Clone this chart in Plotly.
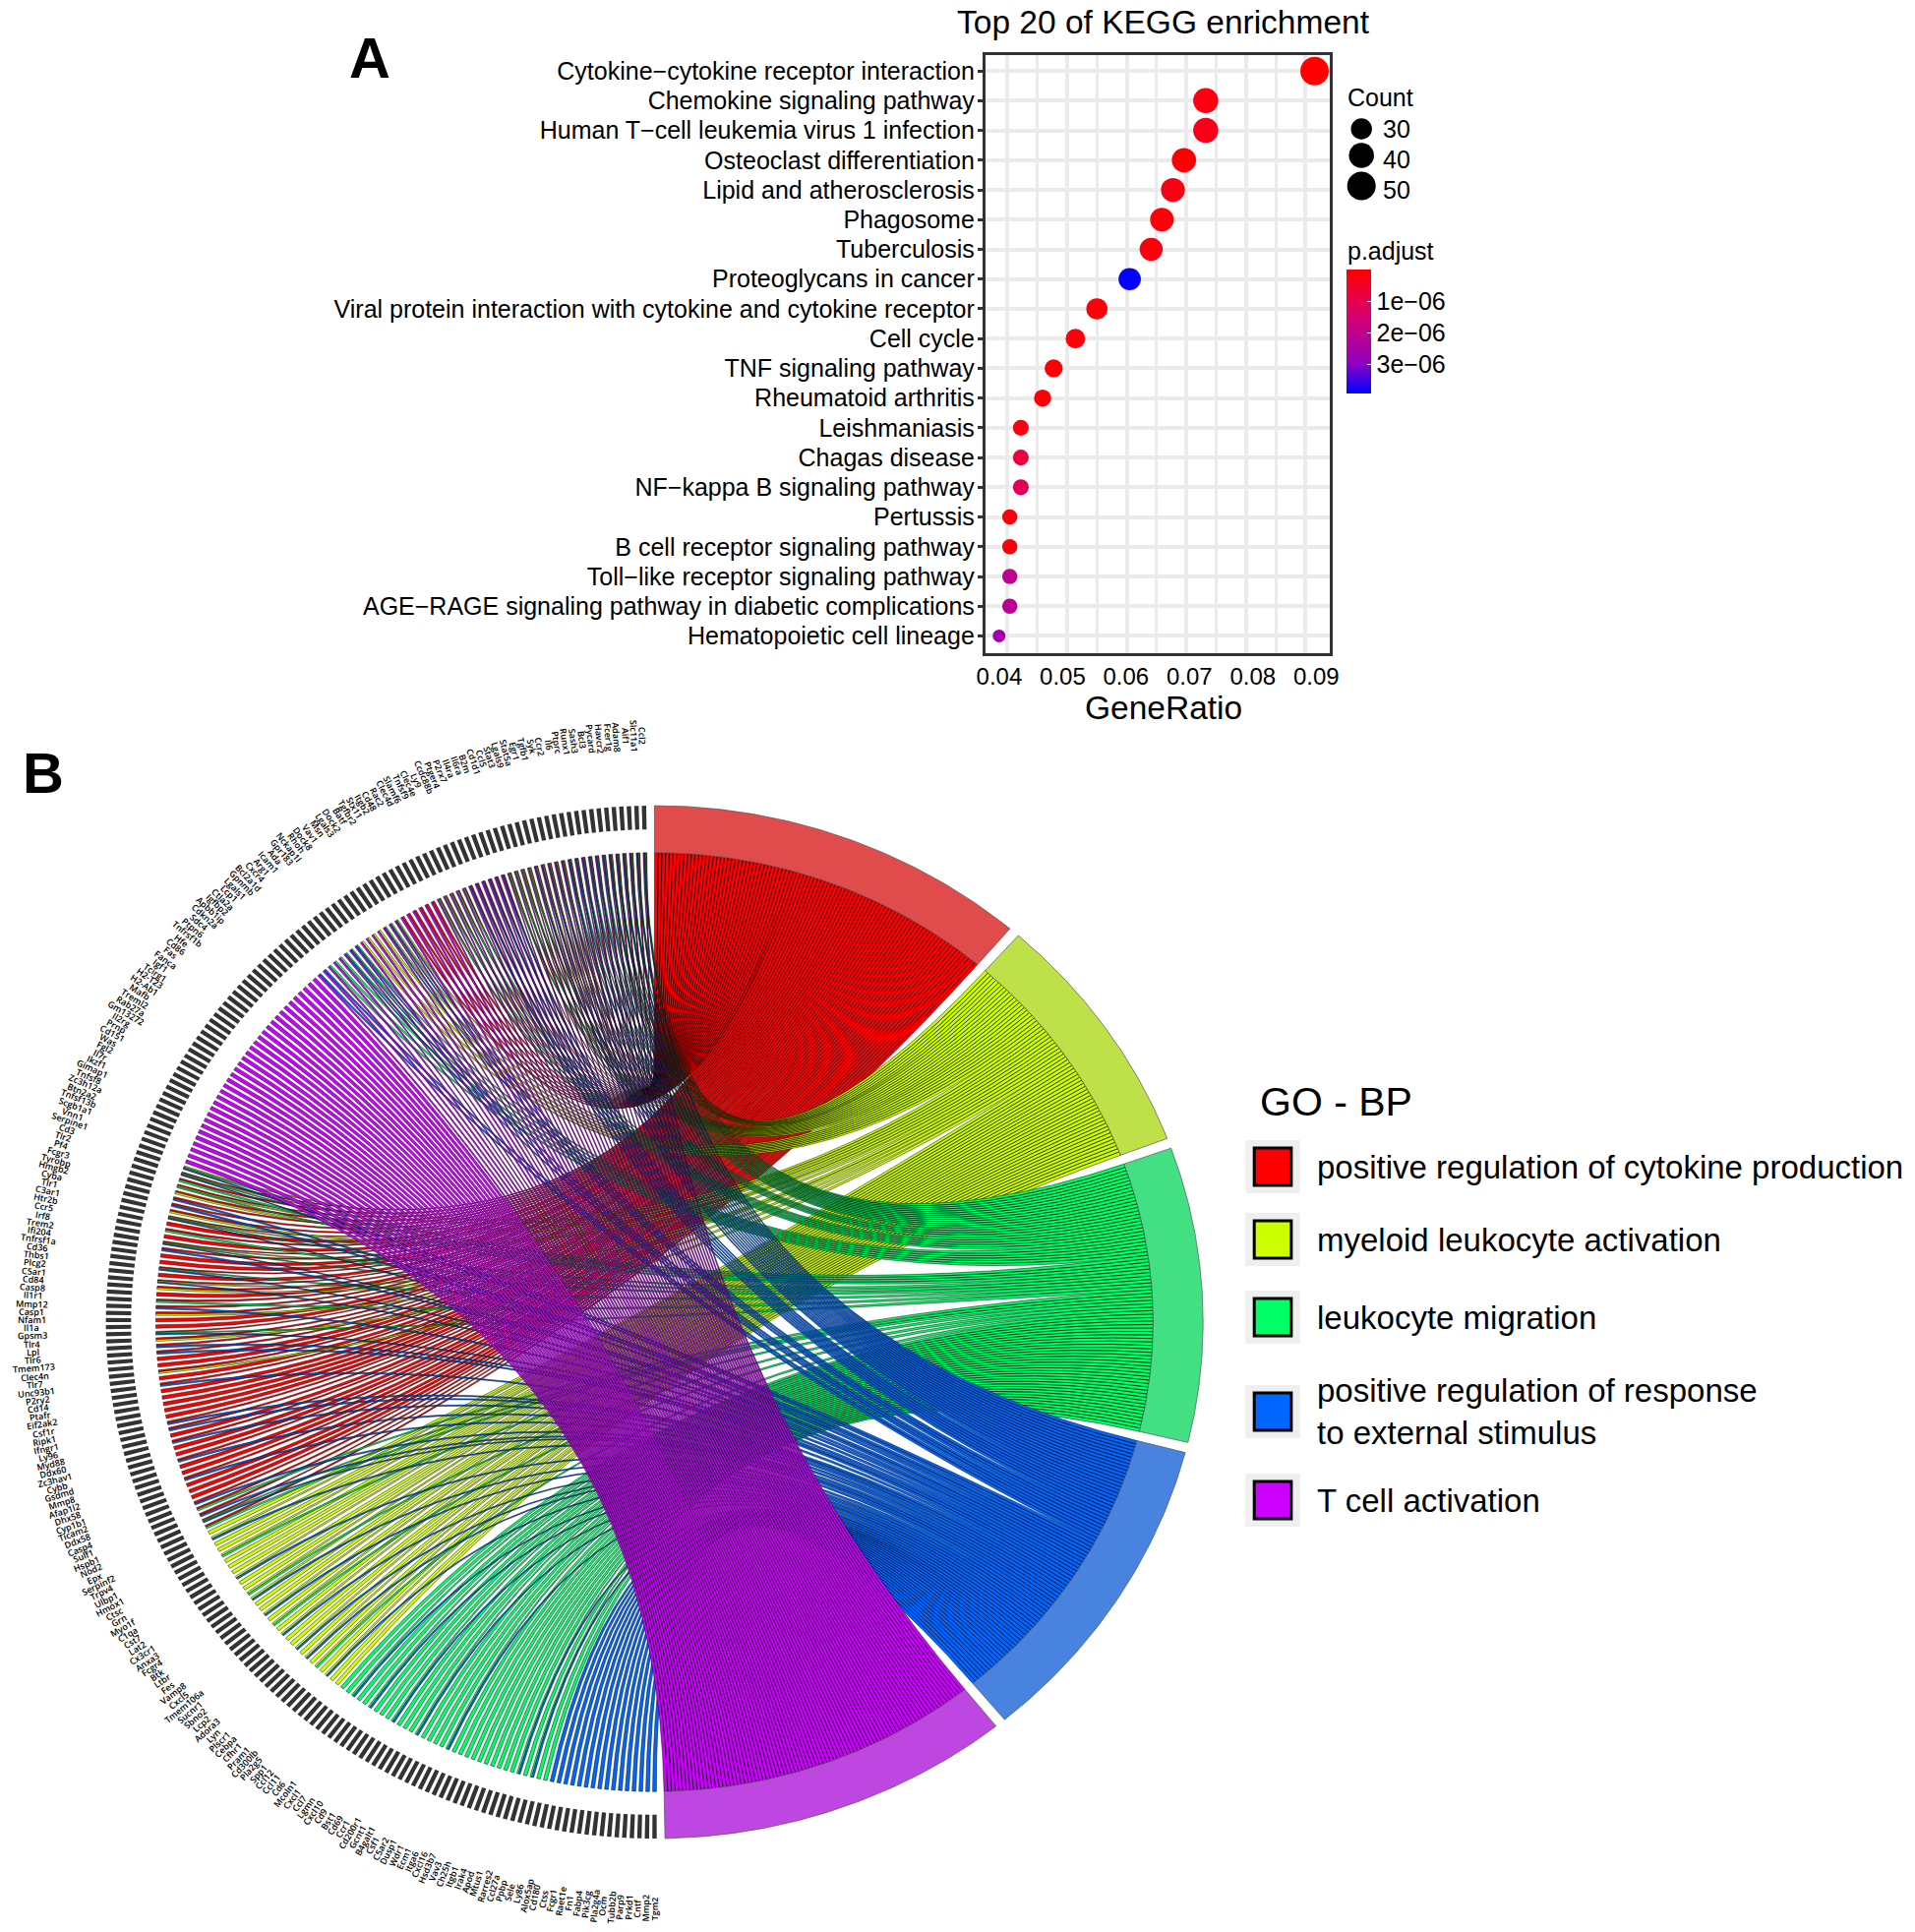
import numpy as np
import plotly.graph_objects as go

W, H = 1947, 1964
PAGE_MARGIN = 8
FIG_W, FIG_H = W - PAGE_MARGIN, H - PAGE_MARGIN
FONT = "Liberation Sans"

# ---------- Panel A data ----------
pathways = ["Cytokine−cytokine receptor interaction", "Chemokine signaling pathway",
            "Human T−cell leukemia virus 1 infection", "Osteoclast differentiation",
            "Lipid and atherosclerosis", "Phagosome", "Tuberculosis", "Proteoglycans in cancer",
            "Viral protein interaction with cytokine and cytokine receptor", "Cell cycle",
            "TNF signaling pathway", "Rheumatoid arthritis", "Leishmaniasis", "Chagas disease",
            "NF−kappa B signaling pathway", "Pertussis", "B cell receptor signaling pathway",
            "Toll−like receptor signaling pathway",
            "AGE−RAGE signaling pathway in diabetic complications", "Hematopoietic cell lineage"]
gene_ratio = [0.0915, 0.07325, 0.07325, 0.0696, 0.06775, 0.0659, 0.0641, 0.0605, 0.0550, 0.0514,
              0.04775, 0.0459, 0.04225, 0.04225, 0.04225, 0.0404, 0.0404, 0.0404, 0.0404, 0.0386]
counts = [50, 40, 40, 38, 37, 36, 35, 33, 30, 28, 26, 25, 23, 23, 23, 22, 22, 22, 22, 21]
p_adjust = [1e-10, 2e-7, 3e-7, 5e-8, 2.5e-7, 1e-7, 1.5e-7, 3.9e-6, 1e-7, 1e-7,
            1e-7, 5e-8, 2e-7, 8e-7, 1.1e-6, 1.5e-7, 1.5e-7, 2e-6, 2.1e-6, 2.6e-6]
ratio_ticks = [0.04, 0.05, 0.06, 0.07, 0.08, 0.09]
count_legend = [30, 40, 50]
padj_ticks = [1e-6, 2e-6, 3e-6]
padj_labels = ["1e−06", "2e−06", "3e−06"]

# ---------- Panel B data ----------
term_names = ["positive regulation of cytokine production", "myeloid leukocyte activation",
              "leukocyte migration", "positive regulation of response<br>to external stimulus",
              "T cell activation"]
term_codes = ["R", "Y", "G", "B", "P"]
genes = """Ccl2 Slc11a1 Aif1 Adam8 Fcer1g Havcr2 Pycard Bcl3 Sash3 Runx1
Ptprc Il6 Ccr2 Syk Tgfb1 Egr1 Stat5a Lgals9 Stat3 Ccl5
Cd1d1 B2m Il6ra Il4ra P2rx7 Ptger4 Ccdc88b Ly9 Clec4e Tnfsf9
Slamf6 Clec4d Rac2 Cd48 Itgb2 Stx11 Tgfbr2 Batf Dock2 Lgals3
Msn Vav1 Dock8 Rhoh Nckap1l Gpr183 Ada Icam1 Arg1 Cxcr4
Bcl2a1d Gpnmb Lgals1 Lcp1 Ctla2a Igfbp2 Apbb1ip Cdkn2a Sdc4 Ptpn6
Tnfrsf1b Hfe Cd86 Fas Fanca Igf1 Tcirg1 H2-T23 H2-Ab1 Mafb
Treml2 Rab27a Gm13272 Il2rg Prnp Cd151 Was Fgl2 Il7r Ikzf1
Gimap1 Tnfsf8 Zc3h12a Btn2a2 Tnfsf13b Scgb1a1 Vnn1 Serpine1 Cd3 Tlr2
Pf4 Fcgr3 Tyrobp Hmgb2 Cyba Tlr1 C3ar1 Htr2b Ccr5 Irf8
Trem2 Ifi204 Tnfrsf1a Cd36 Thbs1 Plcg2 C5ar1 Cd84 Casp8 Il1r1
Mmp12 Casp1 Nfam1 Il1a Gpsm3 Tlr4 Lpl Tlr6 Tmem173 Clec4n
Tlr7 Unc93b1 P2ry2 Cd14 Ptafr Eif2ak2 Csf1r Ripk1 Ifngr1 Ly96
Myd88 Ddx60 Zc3hav1 Cybb Gsdmd Mmp8 Afap1l2 Dhx58 Cyp1b1 Ticam2
Ddx58 Casp4 Sulf1 Hspb1 Nod2 Epx Serpinf2 Trpv4 Ulbp1 Hmox1
Ctsc Grn Myo1f C1qa Cst7 Lat2 Cx3cr1 Anxa3 Fcgr4 Btk
Ltbr Fes Vamp8 Cxcl5 Tmem106a Sucnr1 Sbno2 Lcp2 Adora3 Lyn
Plscr1 Cebpa Cfhr1 Pram1 Cd300lb Pla2g5 Spp1 Ccl12 Ccl11 Cd6
Mcoln1 Cxcl1 Ccl7 Lgmn Cxcl10 Cd9 Bst1 Cd69 Ccr1 Cd200r1
Gcnt1 B4galt1 Csf1 C5ar2 Dusp1 Wdr1 Ecm1 Itga6 Cxcl16 Hsd3b7
Vav3 Ch25h Itgb1 Irak4 Apod Mtus1 Rarres2 Ccl27a Ppbp Sele
Ly86 Alox5ap Cd180 Ctss Fcgr1 Raet1e Fn1 Fabp4 Pik3cg Pla2g4a
Ocm Tubb2b Parp9 Prkd1 Cntf Mmp2 Tgm2""".split()

member_shared = (["RYGBP"] * 6 + ["RGBP"] * 6 + ["RYBP"] * 5 + ["RYGP"] * 4 + ["RBP"] * 6 + ["RGP"] * 5
                 + ["RP"] * 6 + ["YBP"] * 3 + ["YP"] * 4 + ["GBP"] * 3 + ["GP"] * 3 + ["BP"] * 2)
member_tcell = ["P"] * 35
member_red = ["YGB", "RYGB", "RG", "RYG", "RY", "RB", "RB", "RY", "RYGB", "R", "RG", "R", "RYGB", "RB", "R",
              "R", "RGB", "R", "RYB", "RY", "R", "RG", "RB", "RY", "R", "R", "RGB", "RY", "RB", "RB",
              "R", "R", "RY", "R", "RB", "R", "R", "R", "R", "R", "RB", "RB", "R", "RB", "R",
              "R", "RB", "R", "R", "RB", "R", "R", "R", "RB", "RG", "RB", "RGB", "RG"]
member_yellow = ["Y", "YB", "Y", "Y", "YG", "Y", "Y", "Y", "YB", "Y", "Y", "YG", "YB", "Y", "Y", "YB",
                 "Y", "YG", "Y", "YB", "Y", "Y", "YB", "Y", "YB", "Y", "YG", "Y", "YB", "Y", "Y"]
member_green = ["G", "G", "GB", "G", "G", "GB", "G", "G", "G", "GB", "G", "G", "G", "GB", "G", "G", "G",
                "G", "GB", "G", "G", "G", "G", "G", "G", "G", "G", "G", "G", "GB", "G", "GB", "G", "G"]
member_blue = ["B"] * 16
membership = member_shared + member_tcell + member_red + member_yellow + member_green + member_blue

# ---------- styles ----------
ribbon_colors = {"R": "#FF0000", "Y": "#CCFF00", "G": "#00FF66", "B": "#0066FF", "P": "#CC00FF"}
block_colors = {"R": "#E04B4B", "Y": "#BEE048", "G": "#43E083", "B": "#4883DF", "P": "#BD47E0"}
# colour bar runs red (top) to blue (bottom), so the scale is drawn on the negated value
padj_scale = [[0, "#0000FF"], [0.25, "#9100BF"], [0.5, "#C2008A"], [0.75, "#E7004F"], [1, "#FF0000"]]

# pixel helpers: page position -> paper fractions (page has a body margin)
def px(x):
    return (x - PAGE_MARGIN) / FIG_W
def py(y):
    return 1 - (y - PAGE_MARGIN) / FIG_H

# circle geometry on the page
CX, CY, RX, RY = 662.5, 1344.0, 563.0, 525.0
R_IN, R_BAR, R_LAB = 0.909, 0.954, 1.135
GENE_START, GENE_SPAN = 0.7, 179.7
TERM_GAP, TERM_TOTAL = 1.15, 174.3

fig = go.Figure()

def marker_px(c):
    return np.interp(c, [21, 22, 25, 30, 40, 50], [13, 15.5, 17.5, 21.5, 25.5, 29])

# Panel A points (main axes carry grid)
fig.add_trace(go.Scatter(
    x=gene_ratio, y=pathways, mode="markers", xaxis="x", yaxis="y", showlegend=False,
    marker=dict(size=marker_px(np.array(counts)), sizemode="diameter", opacity=1, color=-np.array(p_adjust),
                cmin=-3.92e-6, cmax=0, colorscale=padj_scale, line=dict(width=0),
                colorbar=dict(x=px(1373), xanchor="left", xpad=0, y=py(274), yanchor="top", ypad=0,
                              lenmode="pixels", len=126, thicknessmode="pixels", thickness=25,
                              tickvals=[-v for v in padj_ticks], ticktext=padj_labels, ticks="inside", ticklen=4,
                              tickcolor="white", tickwidth=1, outlinewidth=0,
                              tickfont=dict(family=FONT, size=25, color="black")))))
# overlay axis carrying the printed tick labels
fig.add_trace(go.Scatter(x=ratio_ticks, y=[pathways[0]] * len(ratio_ticks), mode="markers", xaxis="x3", yaxis="y",
                         showlegend=False, marker=dict(size=1, opacity=0), hoverinfo="skip"))

# Panel B geometry -----------------------------------------------------
N = len(genes)
gene_step = GENE_SPAN / N
sizes = {c: sum(c in m for m in membership) for c in term_codes}
total = sum(sizes.values())
term_start, term_span = {}, {}
cursor = 0.0
for c in term_codes:
    term_start[c] = cursor
    term_span[c] = TERM_TOTAL * sizes[c] / total
    cursor += term_span[c] + TERM_GAP

def gene_xy(phi, r):
    a = np.radians(phi)
    return -r * np.sin(a), r * np.cos(a)

def term_xy(th, r):
    a = np.radians(th)
    return r * np.sin(a), r * np.cos(a)

T = np.linspace(0, 1, 26)

def ribbon(phi1, phi2, th1, th2):
    xs, ys = [], []
    ax1, ay1 = gene_xy(phi1, R_IN)
    bx1, by1 = term_xy(th1, R_IN)
    xs += list((1 - T) ** 2 * ax1 + T ** 2 * bx1)
    ys += list((1 - T) ** 2 * ay1 + T ** 2 * by1)
    bx2, by2 = term_xy(th2, R_IN)
    ax2, ay2 = gene_xy(phi2, R_IN)
    xs += list((1 - T) ** 2 * bx2 + T ** 2 * ax2)
    ys += list((1 - T) ** 2 * by2 + T ** 2 * ay2)
    xs += [ax1, None]
    ys += [ay1, None]
    return xs, ys

slot = {c: 0 for c in term_codes}
paths = {c: ([], []) for c in term_codes}
for i, m in enumerate(membership):
    c0 = GENE_START + (i + 0.5) * gene_step
    half = 0.27 * gene_step
    parts = [c for c in term_codes if c in m]
    w = 2 * half / len(parts)
    for k, c in enumerate(parts):
        phi1 = c0 - half + k * w
        phi2 = phi1 + w
        d = term_span[c] / sizes[c]
        th1 = term_start[c] + slot[c] * d
        th2 = th1 + d
        slot[c] += 1
        xs, ys = ribbon(phi1, phi2, th1, th2)
        paths[c][0].extend(xs)
        paths[c][1].extend(ys)

for c in term_codes:
    fig.add_trace(go.Scatter(x=paths[c][0], y=paths[c][1], mode="lines", fill="toself",
                             fillcolor=ribbon_colors[c], line=dict(color="black", width=0.48, simplify=False),
                             xaxis="x2", yaxis="y2", showlegend=False, hoverinfo="skip"))

# term blocks
for c in term_codes:
    th = np.linspace(term_start[c], term_start[c] + term_span[c], 80)
    xo, yo = term_xy(th, 1.0)
    xi, yi = term_xy(th[::-1], R_IN)
    fig.add_trace(go.Scatter(x=list(xo) + list(xi) + [xo[0]], y=list(yo) + list(yi) + [yo[0]], mode="lines",
                             fill="toself", fillcolor=block_colors[c], line=dict(color="#555555", width=0.7),
                             xaxis="x2", yaxis="y2", showlegend=False, hoverinfo="skip"))

# gene bars
bx, by = [], []
for i in range(N):
    c0 = GENE_START + (i + 0.5) * gene_step
    half = 0.29 * gene_step
    x1, y1 = gene_xy(c0 - half, 1.0)
    x2, y2 = gene_xy(c0 + half, 1.0)
    x3, y3 = gene_xy(c0 + half, R_BAR)
    x4, y4 = gene_xy(c0 - half, R_BAR)
    bx += [x1, x2, x3, x4, x1, None]
    by += [y1, y2, y3, y4, y1, None]
fig.add_trace(go.Scatter(x=bx, y=by, mode="lines", fill="toself", fillcolor="#333333",
                         line=dict(color="#333333", width=0), xaxis="x2", yaxis="y2",
                         showlegend=False, hoverinfo="skip"))

annotations = []
# gene labels
for i, g in enumerate(genes):
    c0 = GENE_START + (i + 0.5) * gene_step
    x, y = gene_xy(c0, R_LAB)
    ang = np.degrees(np.arctan2(RX * np.sin(np.radians(c0)), RY * np.cos(np.radians(c0))))
    annotations.append(dict(x=x, y=y, xref="x2", yref="y2", text=g, showarrow=False, textangle=90 - ang,
                            xanchor="center", yanchor="middle",
                            font=dict(family="Open Sans", size=9, color="black", weight=600)))

def label(x, y, text, size, xanchor="left", bold=False, yanchor="middle"):
    annotations.append(dict(x=px(x), y=py(y), xref="paper", yref="paper", text=("<b>%s</b>" % text) if bold else text,
                            showarrow=False, xanchor=xanchor, yanchor=yanchor,
                            font=dict(family=FONT, size=size, color="black")))

label(370, 59, "A", 58, "center", True)
label(35, 785, "B", 58, "center", True)
label(1184.5, 23, "Top 20 of KEGG enrichment", 33.5, "center")
label(1184.5, 719, "GeneRatio", 33.5, "center")
label(1372, 99, "Count", 25)
label(1372, 255, "p.adjust", 25)
label(1281.5, 1120, "GO - BP", 41)

# Count legend
count_y = [131, 158, 189]
count_ty = [131, 162, 193]
fig.add_trace(go.Scatter(x=[(1388 - CX) / RX] * 3, y=[-(v - CY) / RY for v in count_y], mode="markers",
                         xaxis="x2", yaxis="y2", showlegend=False, hoverinfo="skip",
                         marker=dict(color="black", opacity=1, size=marker_px(np.array(count_legend)),
                                     line=dict(width=0))))
for c, v in zip(count_legend, count_ty):
    label(1408, v, str(c), 25)

# GO legend
shapes = []
legend_y = [1186, 1260, 1339, 1435, 1525]
for name, c, v in zip(term_names, term_codes, legend_y):
    shapes.append(dict(type="rect", xref="paper", yref="paper", x0=px(1269), x1=px(1325), y0=py(v - 27), y1=py(v + 27),
                       fillcolor="#EFEFEF", line=dict(width=0)))
    shapes.append(dict(type="rect", xref="paper", yref="paper", x0=px(1278), x1=px(1316), y0=py(v - 19), y1=py(v + 19),
                       fillcolor=ribbon_colors[c], line=dict(color="black", width=3)))
    annotations.append(dict(x=px(1340), y=py(v), xref="paper", yref="paper", text=name, showarrow=False, xanchor="left",
                            yanchor="middle", align="left",
                            font=dict(family=FONT, size=33, color="black")))

grid = "#EBEBEB"
PANEL_L, PANEL_R, PANEL_T, PANEL_B = 1001.8, 1356.0, 55.5, 664.0
fig.update_layout(
    width=FIG_W, height=FIG_H, autosize=False, margin=dict(l=0, r=0, t=0, b=0),
    paper_bgcolor="white", plot_bgcolor="rgba(0,0,0,0)", showlegend=False,
    font=dict(family=FONT, color="black"),
    xaxis=dict(domain=[px(PANEL_L), px(PANEL_R)], range=[0.03626, 0.09413], anchor="y", tick0=0.04, dtick=0.01,
               showticklabels=False, ticks="", showgrid=True, gridcolor=grid, gridwidth=4, zeroline=False,
               minor=dict(dtick=0.005, tick0=0.04, showgrid=True, gridcolor=grid, gridwidth=3),
               showline=True, mirror=True, linecolor="#333333", linewidth=2.5),
    yaxis=dict(domain=[py(PANEL_B), py(PANEL_T)], anchor="x", type="category", categoryorder="array",
               categoryarray=pathways, range=[19.58, -0.55], ticks="outside", ticklen=5, tickwidth=3,
               tickcolor="#333333", tickfont=dict(family=FONT, size=25, color="black"), showgrid=True, gridcolor=grid,
               gridwidth=4, zeroline=False, showline=True, mirror=True, linecolor="#333333", linewidth=2.5,
               ticklabelstandoff=-2),
    xaxis3=dict(domain=[px(PANEL_L), px(PANEL_R)], range=[0.03777, 0.09221], overlaying="x", anchor="y", side="bottom",
                tickvals=ratio_ticks, ticktext=["%.2f" % v for v in ratio_ticks], ticks="", showgrid=False,
                zeroline=False, tickfont=dict(family=FONT, size=24, color="black"), showline=False,
                ticklabelstandoff=7),
    xaxis2=dict(domain=[0, 1], range=[(PAGE_MARGIN - CX) / RX, (W - CX) / RX], visible=False, anchor="y2"),
    yaxis2=dict(domain=[0, 1], range=[-(H - CY) / RY, (CY - PAGE_MARGIN) / RY], visible=False, anchor="x2"),
    annotations=annotations, shapes=shapes,
)
fig.write_html("out.html")
